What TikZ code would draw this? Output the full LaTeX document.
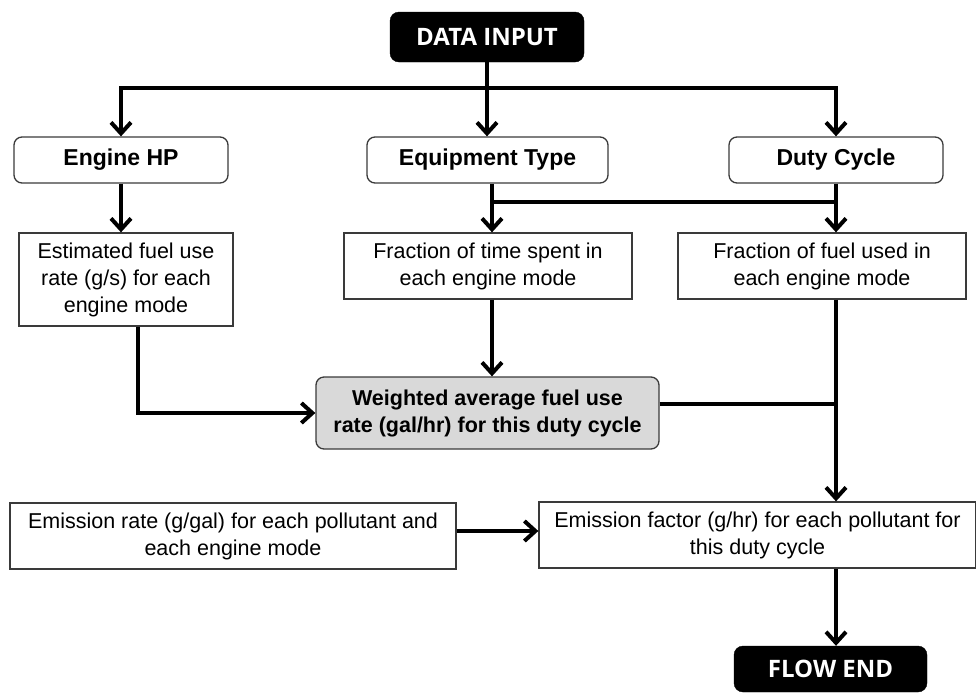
\documentclass[tikz,border=0pt]{standalone}
\usepackage{fontspec}
\setmainfont{Liberation Sans}
\newfontfamily\headfont{Open Sans}
\usetikzlibrary{arrows.meta}
\definecolor{boxgray}{HTML}{D9D9D9}
\definecolor{edgegray}{HTML}{3A3A3A}
\tikzset{
  base/.style={draw=edgegray, line width=1.3pt, inner sep=0pt, align=center,
    font=\fontsize{21.5}{27}\selectfont},
  roundbox/.style={base, rounded corners=8pt},
  plainbox/.style={base},
  termbox/.style={fill=black, draw=black, rounded corners=9pt, inner sep=0pt,
    text=white, font=\headfont\bfseries\fontsize{24}{28}\selectfont},
  conn/.style={line width=4pt},
  arrowconn/.style={line width=4pt, -{Straight Barb[length=11pt,width=20pt]}},
}
\begin{document}
\begin{tikzpicture}[x=1pt,y=-1pt]
\useasboundingbox (0,0) rectangle (976,694);
% terminals
\node[termbox, minimum width=194pt, minimum height=50pt] (datain) at (487,37) {DATA INPUT};
\node[termbox, minimum width=193pt, minimum height=46pt] (flowend) at (830.5,669) {FLOW END};
% first row
\node[roundbox, minimum width=214pt, minimum height=46pt, font=\bfseries\fontsize{23}{27}\selectfont] (hp) at (121,160) {Engine HP};
\node[roundbox, minimum width=241pt, minimum height=46pt, font=\bfseries\fontsize{23}{27}\selectfont] (eq) at (487.5,160) {Equipment Type};
\node[roundbox, minimum width=214pt, minimum height=46pt, font=\bfseries\fontsize{23}{27}\selectfont] (duty) at (836,160) {Duty Cycle};
% second row
\node[plainbox, minimum width=214pt, minimum height=93pt] (est) at (126,279.5) {Estimated fuel use\\rate (g/s) for each\\engine mode};
\node[plainbox, minimum width=288pt, minimum height=66pt] (ftime) at (488,266) {Fraction of time spent in\\each engine mode};
\node[plainbox, minimum width=288pt, minimum height=66pt] (ffuel) at (822,266) {Fraction of fuel used in\\each engine mode};
% weighted
\node[roundbox, fill=boxgray, minimum width=343pt, minimum height=72pt, font=\bfseries\fontsize{21.5}{27}\selectfont] (wavg) at (487.5,413) {Weighted average fuel use\\rate (gal/hr) for this duty cycle};
% bottom row
\node[plainbox, minimum width=446pt, minimum height=66pt] (erate) at (233,536) {Emission rate (g/gal) for each pollutant and\\each engine mode};
\node[plainbox, minimum width=437pt, minimum height=66pt] (efac) at (757.5,535) {Emission factor (g/hr) for each pollutant for\\this duty cycle};
% junction coordinates
\coordinate (topbar) at (0,88);
\coordinate (eqx) at (492,0);
\coordinate (midbar) at (0,202);
\coordinate (estx) at (138,0);
\coordinate (wavgy) at (0,404);
\coordinate (fuelx) at (836,0);
% connectors
\draw[arrowconn] (datain.south) -- (datain.south |- eq.north);
\draw[arrowconn] (datain.south |- topbar) -| (hp.north);
\draw[arrowconn] (datain.south |- topbar) -| (duty.north);
\draw[arrowconn] (hp.south) -- (hp.south |- est.north);
\draw[arrowconn] (eqx |- eq.south) -- (eqx |- ftime.north);
\draw[conn] (eqx |- midbar) -- (fuelx |- midbar);
\draw[arrowconn] (fuelx |- duty.south) -- (fuelx |- ffuel.north);
\draw[arrowconn] (eqx |- ftime.south) -- (eqx |- wavg.north);
\draw[arrowconn] (estx |- est.south) |- (wavg.west);
\draw[conn] (wavg.east |- wavgy) -- (fuelx |- wavgy);
\draw[arrowconn] (fuelx |- ffuel.south) -- (fuelx |- efac.north);
\draw[arrowconn] (erate.east |- 0,531) -- (efac.west |- 0,531);
\draw[arrowconn] (fuelx |- efac.south) -- (fuelx |- flowend.north);
\end{tikzpicture}
\end{document}
